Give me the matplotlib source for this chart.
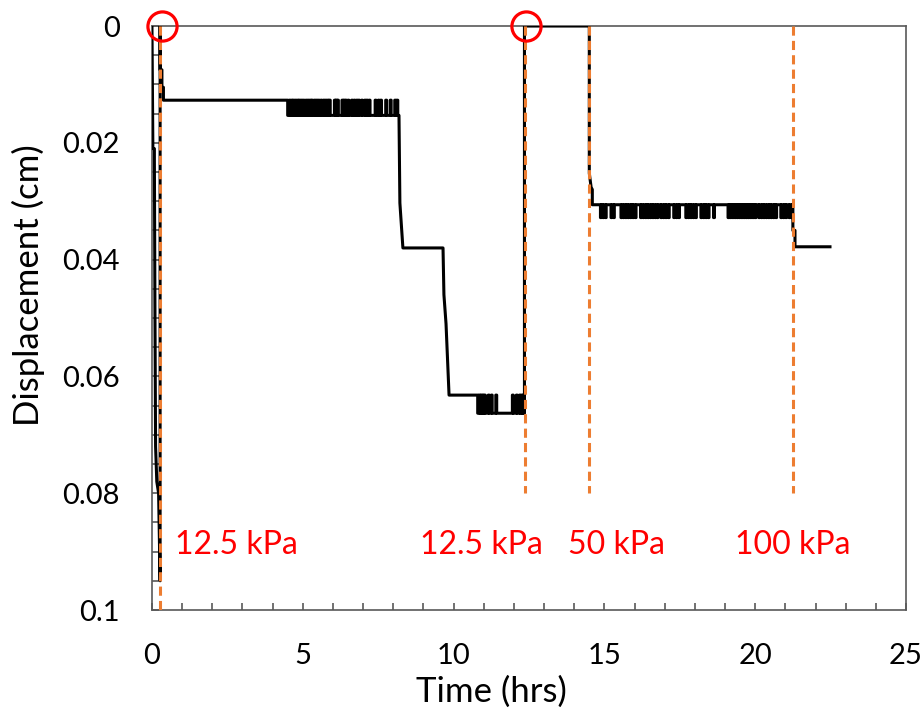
import matplotlib
matplotlib.use("Agg")
import matplotlib.pyplot as plt

plt.rcParams['font.family'] = ['Lato', 'DejaVu Sans']

# Axis ticks and labels
x_ticks = [0, 5, 10, 15, 20, 25]
x_tick_labels = ["0", "5", "10", "15", "20", "25"]
y_ticks = [0, 0.02, 0.04, 0.06, 0.08, 0.1]
y_tick_labels = ["0", "0.02", "0.04", "0.06", "0.08", "0.1"]

# Initial loading (12.5 kPa) and first unloading spike
init_t = [0.0, 0.03, 0.03, 0.08, 0.08, 0.10, 0.12, 0.16, 0.22, 0.27, 0.27, 0.27,
          0.33, 0.33, 0.38, 0.38, 4.50]
init_d = [0.0, 0.0195, 0.021, 0.021, 0.023, 0.050, 0.072, 0.078, 0.080, 0.095, 0.0, 0.0075,
          0.0075, 0.0105, 0.0105, 0.0127, 0.0127]

# Noisy band 1 (upper 0.0127 / lower 0.0153): times of short jumps up
band1_hi, band1_lo = 0.0127, 0.0153
band1_spikes = [4.55, 4.62, 4.68, 4.75, 4.82, 4.88, 4.95, 5.02, 5.10, 5.17, 5.24, 5.30,
                5.38, 5.45, 5.52, 5.60, 5.68, 5.75, 5.82, 5.88, 6.05, 6.10, 6.15, 6.30,
                6.36, 6.42, 6.50, 6.62, 6.70, 6.78, 6.85, 6.95, 7.05, 7.12, 7.20, 7.40,
                7.50, 7.58, 7.75, 7.90, 8.05, 8.12]
band1_end = 8.19

# Consolidation steps between 8.2 h and 10.8 h
mid_t = [8.19, 8.22, 8.32, 9.65, 9.68, 9.75, 9.85, 10.80]
mid_d = [0.0153, 0.0303, 0.0380, 0.0380, 0.0460, 0.0510, 0.0632, 0.0632]

# Noisy band 2 (upper 0.0632 / lower 0.0663): times of short jumps up
band2_hi, band2_lo = 0.0632, 0.0663
band2_spikes = [10.84, 10.90, 10.96, 11.02, 11.15, 11.25, 11.40, 11.95, 12.08, 12.18,
                12.25, 12.31]
band2_end = 12.35

# Unloading to zero, reloading at 50 kPa
rel_t = [12.35, 12.35, 14.50, 14.50, 14.56, 14.60, 14.60, 14.62]
rel_d = [0.0663, 0.0, 0.0, 0.0252, 0.0276, 0.0280, 0.0306, 0.0306]

# Noisy band 3 (upper 0.0306 / lower 0.0328): times of short jumps down
band3_hi, band3_lo = 0.0306, 0.0328
band3_spikes = [14.87, 14.95, 15.03, 15.22, 15.30, 15.55, 15.62, 15.70, 15.78, 15.86,
                15.94, 16.02, 16.20, 16.28, 16.36, 16.44, 16.52, 16.60, 16.68, 16.75,
                16.87, 16.95, 17.03, 17.12, 17.30, 17.38, 17.46, 17.70, 17.78, 17.86,
                17.94, 18.02, 18.20, 18.28, 18.36, 18.44, 18.62, 19.10, 19.16, 19.22,
                19.28, 19.34, 19.40, 19.46, 19.52, 19.58, 19.64, 19.70, 19.76, 19.82,
                19.88, 19.94, 20.00, 20.12, 20.20, 20.28, 20.36, 20.44, 20.52, 20.60,
                20.68, 20.85, 20.93, 21.01, 21.12, 21.20]

# 100 kPa step
end_t = [21.25, 21.25, 21.32, 21.32, 22.48]
end_d = [0.0306, 0.0350, 0.0350, 0.0378, 0.0378]

# Load change markers
load_times = [0.27, 12.37, 14.50, 21.25]
load_bottoms = [0.1, 0.08, 0.08, 0.08]
load_labels = ["12.5 kPa", "12.5 kPa", "50 kPa", "100 kPa"]
label_x = [0.76, 8.89, 13.79, 19.33]
label_y = 0.0889

# Circled points
circle_t = [0.33, 12.40]
circle_d = [0.0, 0.0]


def band(spikes, base, peak, width=0.03):
    ts, ds = [], []
    for s in spikes:
        ts += [s, s, s + width, s + width]
        ds += [base, peak, peak, base]
    return ts, ds


t, d = list(init_t), list(init_d)
t.append(4.50)
d.append(band1_lo)
bt, bd = band(band1_spikes, band1_lo, band1_hi)
t += bt
d += bd
t.append(band1_end)
d.append(band1_lo)
t += mid_t
d += mid_d
t.append(10.80)
d.append(band2_lo)
bt, bd = band(band2_spikes, band2_lo, band2_hi)
t += bt
d += bd
t.append(band2_end)
d.append(band2_lo)
t += rel_t
d += rel_d
bt, bd = band(band3_spikes, band3_hi, band3_lo)
t += bt
d += bd
t += end_t
d += end_d

fig = plt.figure(figsize=(9.21, 7.17), dpi=100)
ax = fig.add_axes([0.165, 0.1492, 0.8187, 0.8145])

ax.plot(t, d, color="black", lw=2.2, solid_joinstyle="round", zorder=3)
ax.vlines(load_times, 0, load_bottoms, colors="#ED7D31", lw=2.2,
          linestyles=(0, (3, 1.7)), zorder=4)
ax.plot(circle_t, circle_d, "o", ms=21, mfc="none", mec="#FF0000", mew=2.3,
        clip_on=False, zorder=5)
for x, lab in zip(label_x, load_labels):
    ax.text(x, label_y, lab, color="#FF0000", fontsize=23, ha="left", va="center")

ax.set_xlim(0, 25)
ax.set_ylim(0.1, 0)
ax.set_xticks(x_ticks)
ax.set_xticklabels(x_tick_labels)
ax.set_yticks(y_ticks)
ax.set_yticklabels(y_tick_labels)
ax.set_xticks(range(0, 26), minor=True)
ax.set_yticks([i * 0.005 for i in range(21)], minor=True)
ax.tick_params(which="both", direction="in", colors="#595959", labelcolor="black",
               labelsize=21, width=1.2)
ax.tick_params(axis="y", which="both", length=5, pad=23)
ax.tick_params(axis="x", which="both", length=5, pad=24)
for s in ax.spines.values():
    s.set_color("#595959")
    s.set_linewidth(1.2)

ax.set_xlabel("Time (hrs)", fontsize=25)
ax.set_ylabel("Displacement (cm)", fontsize=25)
ax.xaxis.set_label_coords(0.45, -0.113)
ax.yaxis.set_label_coords(-0.142, 0.557)

fig.savefig("out.png", dpi=100)
